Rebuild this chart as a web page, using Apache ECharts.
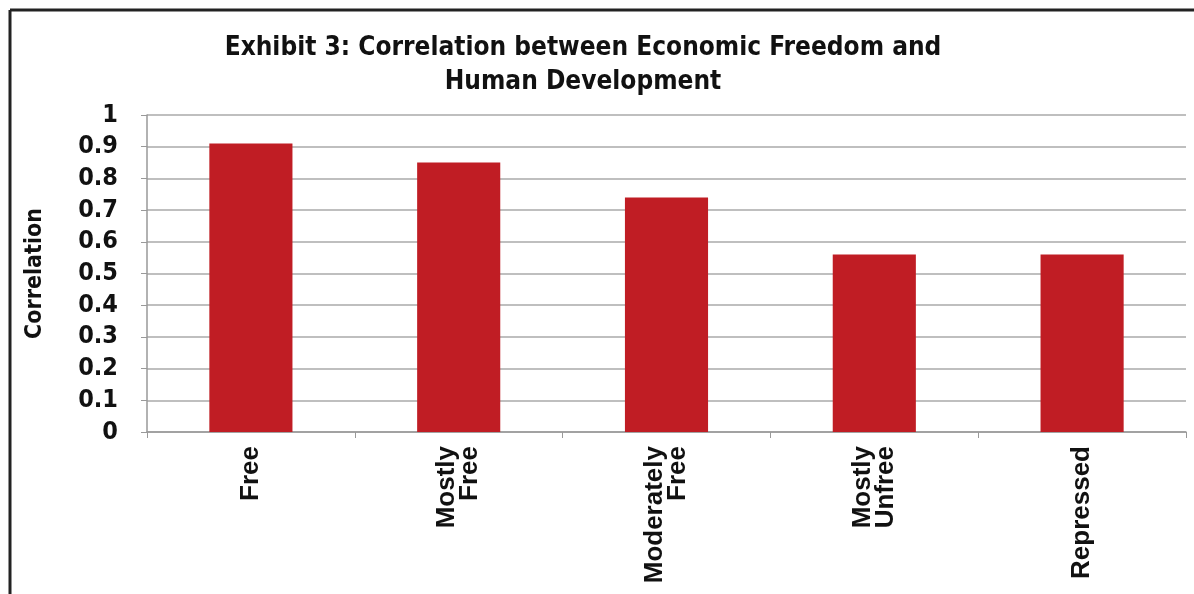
<!DOCTYPE html>
<html><head><meta charset="utf-8">
<script src="https://cdn.jsdelivr.net/npm/echarts@6/dist/echarts.min.js"></script>
<style>html,body{margin:0;padding:0;background:#fff}#c{width:1194px;height:594px}</style>
</head><body><div id="c"></div>
<script>
const categories = ['Free', 'Mostly\nFree', 'Moderately\nFree', 'Mostly\nUnfree', 'Repressed'];
const correlation = [0.91, 0.85, 0.74, 0.56, 0.56];
const yTicks = [0, 0.1, 0.2, 0.3, 0.4, 0.5, 0.6, 0.7, 0.8, 0.9, 1];

const COND = "'DejaVu Sans Condensed', 'Liberation Sans', sans-serif";
const chart = echarts.init(document.getElementById('c'));
chart.setOption({
  backgroundColor: '#fff',
  animation: false,
  title: {
    text: 'Exhibit 3: Correlation between Economic Freedom and\nHuman Development',
    left: 578, top: 26, textAlign: 'center',
    textStyle: { fontFamily: COND, fontWeight: 'bold', fontSize: 26, lineHeight: 34, color: '#111' }
  },
  graphic: [
    { type: 'line', shape: { x1: 10, y1: 10, x2: 10, y2: 594 }, style: { stroke: '#222', lineWidth: 3 } },
    { type: 'line', shape: { x1: 10, y1: 10, x2: 1194, y2: 10 }, style: { stroke: '#222', lineWidth: 3 } }
  ],
  grid: { left: 147, right: 8, top: 115, bottom: 162, containLabel: false },
  xAxis: {
    type: 'category', data: categories,
    axisLine: { lineStyle: { color: '#999', width: 1.5 } },
    axisTick: { show: true, length: 6, lineStyle: { color: '#999' } },
    axisLabel: { rotate: 90, margin: 14, color: '#111', fontFamily: 'Liberation Sans', fontWeight: 'bold', fontSize: 26, lineHeight: 23, interval: 0 }
  },
  yAxis: {
    type: 'value', min: 0, max: 1, interval: 0.1,
    name: 'Correlation', nameLocation: 'middle', nameGap: 100, nameRotate: 90,
    nameTextStyle: { fontFamily: COND, fontWeight: 'bold', fontSize: 23, color: '#111' },
    axisLine: { show: true, lineStyle: { color: '#999', width: 1.5 } },
    axisTick: { show: true, length: 6, lineStyle: { color: '#999' } },
    splitLine: { lineStyle: { color: '#aaa', width: 1.5 } },
    axisLabel: {
      margin: 29, color: '#111', fontFamily: COND, fontWeight: 'bold', fontSize: 25,
      formatter: v => { const t = yTicks.find(x => Math.abs(x - v) < 1e-9); return t === undefined ? '' : String(t); }
    }
  },
  series: [{
    type: 'bar', data: correlation, barWidth: '40%',
    itemStyle: { color: '#c01d24' }
  }]
});
</script></body></html>
